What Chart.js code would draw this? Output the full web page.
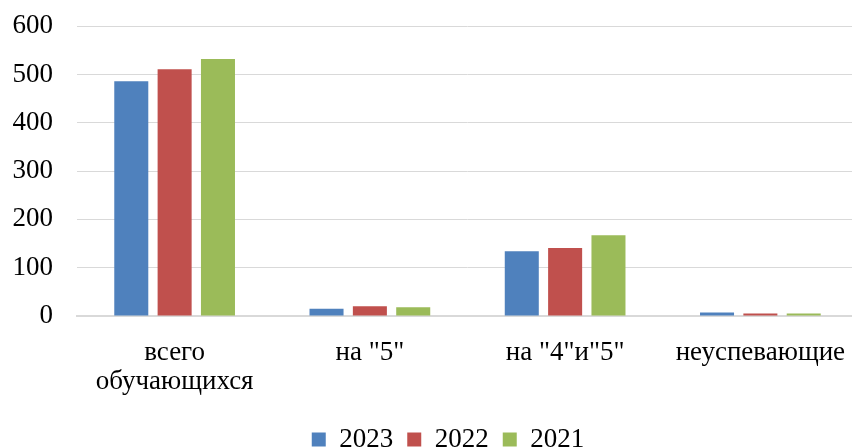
<!DOCTYPE html>
<html lang="ru">
<head>
<meta charset="utf-8">
<title>Успеваемость</title>
<script src="https://cdn.jsdelivr.net/npm/chart.js@4/dist/chart.umd.min.js"></script>
<style>
    html, body { margin: 0; padding: 0; background: #fff; overflow: hidden; }
    #wrap { position: absolute; left: 0; top: -14px; width: 860px; height: 477px; }
</style>
</head>
<body>
<div id="wrap"><canvas id="chart"></canvas></div>
<script>
// Categories and values
const categories = [['всего', 'обучающихся'], 'на "5"', 'на "4"и"5"', 'неуспевающие'];
const years = ['2023', '2022', '2021'];
const values2023 = [486, 15, 134, 7];
const values2022 = [511, 20, 141, 5];
const values2021 = [532, 18, 167, 5];
const yTicks = [0, 100, 200, 300, 400, 500, 600];

const colors = ['#4F81BD', '#C0504D', '#9BBB59'];

Chart.defaults.font.family = "'Liberation Serif', 'Times New Roman', serif";
Chart.defaults.font.size = 27;
Chart.defaults.color = '#000';

// nudge the legend a bit to the right, like in the original
const legendShift = {
    id: 'legendShift',
    afterLayout(chart) {
        chart.legend.left += 19;
        chart.legend.right += 19;
    }
};

function renderChart() {
    const ctx = document.getElementById('chart').getContext('2d');
    new Chart(ctx, {
        type: 'bar',
        data: {
            labels: categories,
            datasets: [
                { label: years[0], data: values2023, backgroundColor: colors[0] },
                { label: years[1], data: values2022, backgroundColor: colors[1] },
                { label: years[2], data: values2021, backgroundColor: colors[2] }
            ]
        },
        options: {
            responsive: true,
            maintainAspectRatio: false,
            animation: false,
            categoryPercentage: 0.666,
            barPercentage: 0.785,
            layout: { padding: { left: 0, right: 2, top: 10, bottom: 0 } },
            plugins: {
                tooltip: { enabled: false },
                legend: {
                    position: 'bottom',
                    labels: { boxWidth: 14, boxHeight: 14, padding: 14 }
                }
            },
            scales: {
                x: {
                    grid: { display: false },
                    border: { display: true, color: '#D9D9D9', width: 2 },
                    ticks: { maxRotation: 0, autoSkip: false, padding: 14, font: { lineHeight: 1.08 } },
                    afterFit: (scale) => { scale.height = 96; }
                },
                y: {
                    min: 0,
                    max: 600,
                    afterBuildTicks: (scale) => { scale.ticks = yTicks.map(v => ({ value: v })); },
                    afterFit: (scale) => { scale.width = 77; },
                    grid: { color: '#D9D9D9', lineWidth: 1, drawTicks: false },
                    border: { display: false },
                    ticks: { padding: 24 }
                }
            }
        },
        plugins: [legendShift]
    });
}

renderChart();
</script>
</body>
</html>
